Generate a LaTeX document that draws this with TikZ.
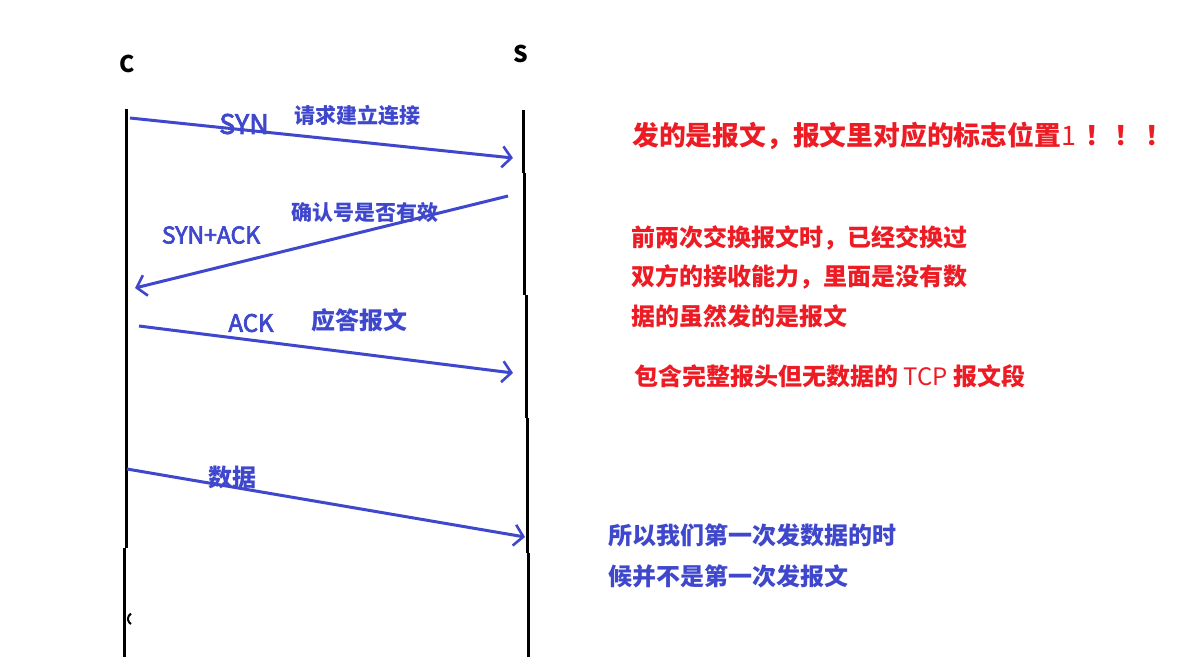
\documentclass[tikz,border=0pt]{standalone}
\usepackage{fontspec}
\setmainfont{Open Sans}
\newfontfamily\cjk{Noto Sans CJK SC}
\newcommand{\thick}[2][0.7]{\special{pdf:literal direct 2 Tr #1 w}#2\special{pdf:literal direct 0 Tr}}
\usetikzlibrary{arrows.meta}
\definecolor{penblue}{HTML}{3F48CC}
\definecolor{penred}{HTML}{ED1C24}
\tikzset{
  life/.style={line width=3pt, black},
  msg/.style={line width=3pt, penblue, -{Straight Barb[length=9pt,width=21pt,line width=2.6pt]}},
  lbl/.style={inner sep=0pt, penblue},
  cjklbl/.style={inner sep=0pt, penblue, font=\cjk\bfseries\fontsize{21}{24}\selectfont},
  note/.style={inner sep=0pt, anchor=west, font=\cjk\bfseries\fontsize{24}{28}\selectfont},
  endlbl/.style={inner sep=0pt, black, font=\cjk\bfseries\fontsize{23}{28}\selectfont},
}
\begin{document}
\begin{tikzpicture}[x=1pt,y=-1pt]
\useasboundingbox (0,0) rectangle (1186,657);
\fill[white] (0,0) rectangle (1186,657);
% lifelines
\coordinate (c1) at (126,109); \coordinate (c2) at (126,548);
\coordinate (c3) at (124,548); \coordinate (c4) at (124,657);
\draw[life] (c1) -- (c2); \draw[life] (c3) -- (c4);
\coordinate (s1) at (523,110); \coordinate (s2) at (523,173);
\coordinate (s3) at (524,173); \coordinate (s4) at (524,295);
\coordinate (s5) at (526,295); \coordinate (s6) at (526,418);
\coordinate (s7) at (527,418); \coordinate (s8) at (527,553);
\coordinate (s9) at (528,553); \coordinate (s10) at (528,657);
\draw[life] (s1) -- (s2); \draw[life] (s3) -- (s4); \draw[life] (s5) -- (s6);
\draw[life] (s7) -- (s8); \draw[life] (s9) -- (s10);
\coordinate (mk) at (131,624);
\draw[black, line width=2pt] (mk) arc[start angle=120, end angle=240, radius=6];
% end labels
\node[endlbl] (C) at (127,64) {C};
\node[endlbl] (S) at (521,54) {S};
% messages
\coordinate (a1) at (130,118); \coordinate (a2) at (513,158);
\coordinate (b1) at (508,196); \coordinate (b2) at (135,288);
\coordinate (d1) at (139,326); \coordinate (d2) at (513,373);
\coordinate (e1) at (127,469); \coordinate (e2) at (525,537);
\draw[msg] (a1) -- (a2);
\draw[msg] (b1) -- (b2);
\draw[msg] (d1) -- (d2);
\draw[msg] (e1) -- (e2);
% labels on messages
\node[lbl, font=\cjk\fontsize{27}{30}\selectfont] (syn) at (244,124) {\thick{SYN}};
\node[cjklbl] (req) at (357,115) {请求建立连接};
\node[cjklbl] (chk) at (365,213) {确认号是否有效};
\node[lbl, font=\cjk\fontsize{23}{26}\selectfont] (synack) at (211,235) {\thick{SYN+ACK}};
\node[lbl, font=\cjk\fontsize{24}{26}\selectfont] (ack) at (251,323) {\thick{ACK}};
\node[cjklbl, font=\cjk\bfseries\fontsize{24}{28}\selectfont] (rep) at (359,320) {应答报文};
\node[cjklbl, font=\cjk\bfseries\fontsize{24}{28}\selectfont] (data) at (232,477) {数据};
% notes
\node[note, penred, font=\cjk\bfseries\fontsize{26.8}{30}\selectfont] (n1) at (632,136) {发的是报文，报文里对应的标志位置{\mdseries 1}\hspace{10pt}！\hspace{2pt}！\hspace{4pt}！};
\node[note, penred] (n2) at (631,238) {前两次交换报文时，已经交换过};
\node[note, penred] (n3) at (631,277) {双方的接收能力，里面是没有数};
\node[note, penred] (n4) at (631,316) {据的虽然发的是报文};
\node[note, penred] (n5) at (634,376) {包含完整报头但无数据的 {\mdseries TCP} 报文段};
\node[note, penblue] (n6) at (608,535) {所以我们第一次发数据的时};
\node[note, penblue] (n7) at (608,576) {候并不是第一次发报文};
\end{tikzpicture}
\end{document}
